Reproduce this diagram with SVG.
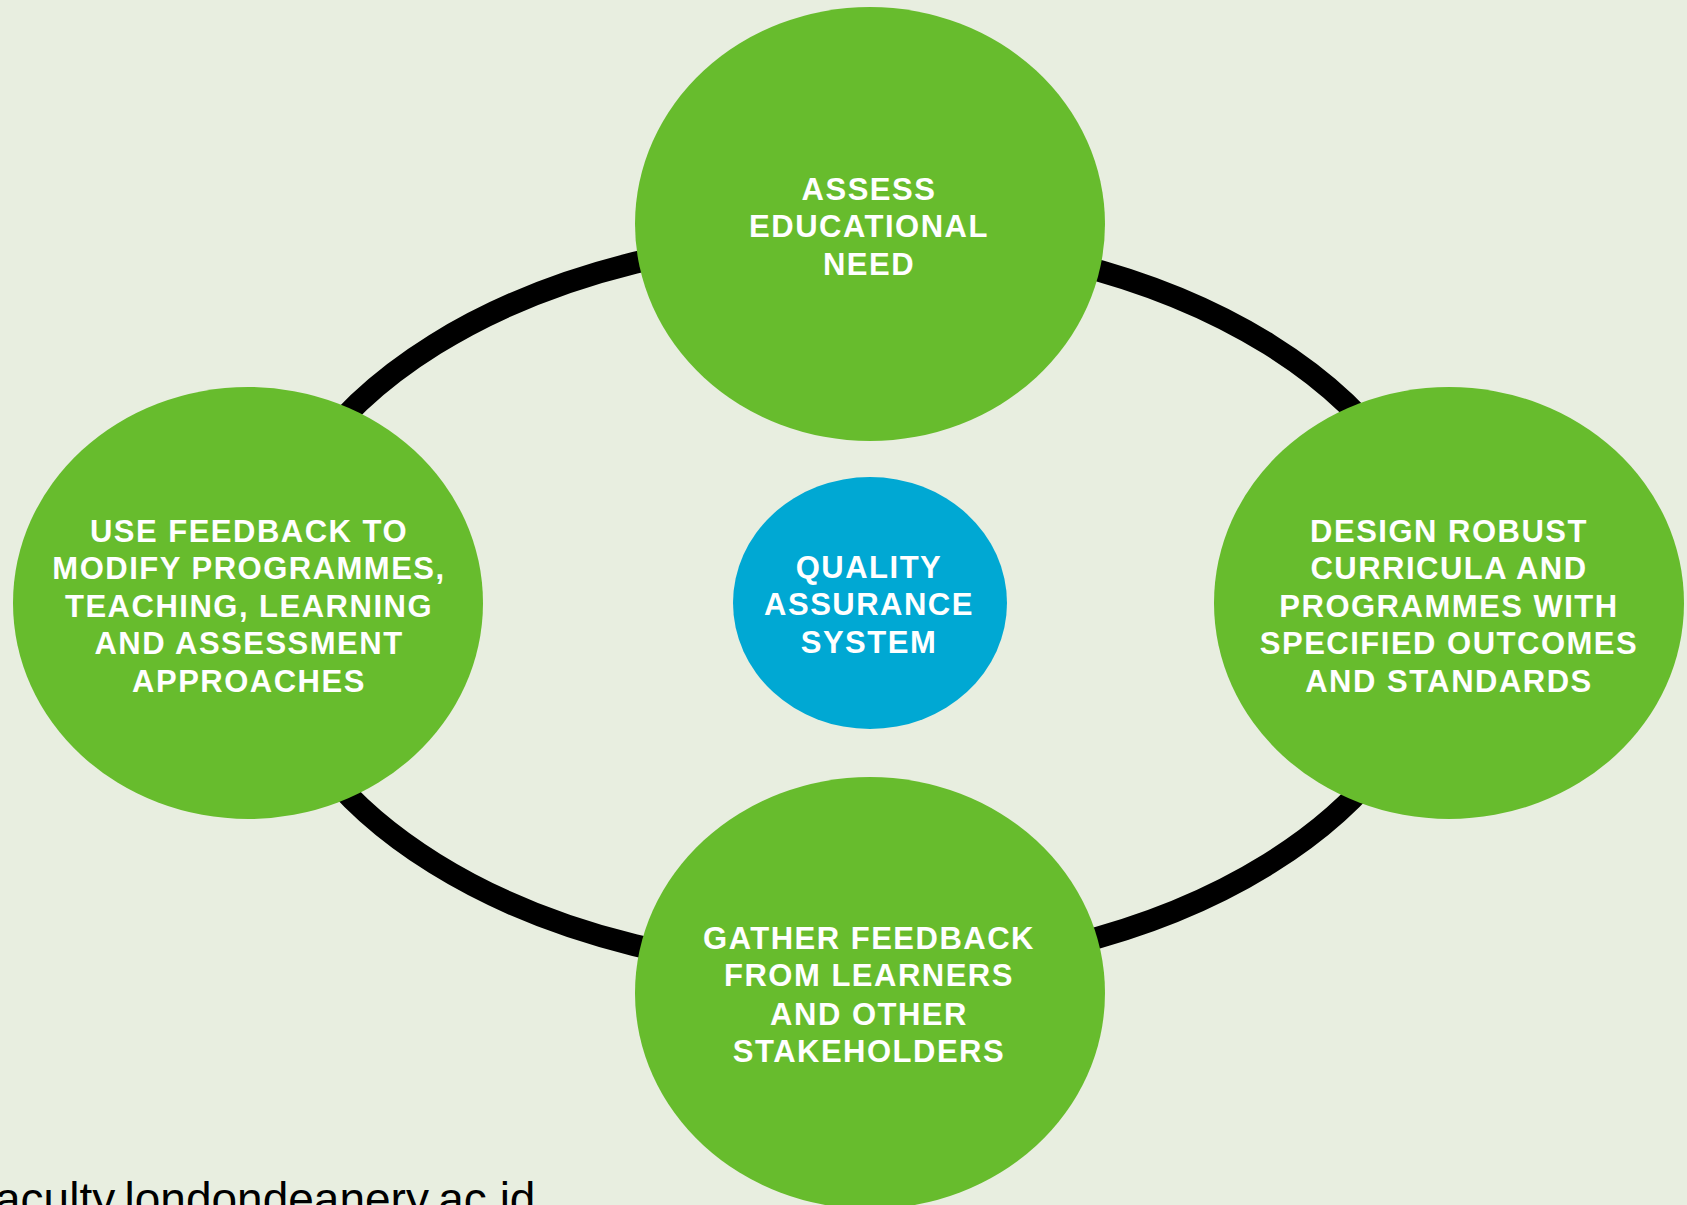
<svg xmlns="http://www.w3.org/2000/svg" width="1687" height="1205" viewBox="0 0 1687 1205">
  <style>
    .ring { fill: none; stroke: #000000; stroke-width: 22; }
    .green { fill: #67bc2d; }
    .blue { fill: #00a8d3; }
    .lbl { font-family: "Liberation Sans", Arial, sans-serif; font-weight: bold; font-size: 31px; fill: #ffffff; text-anchor: middle; letter-spacing: 1.5px; }
    .url { font-family: "Liberation Sans", Arial, sans-serif; font-size: 46px; fill: #000000; }
  </style>
  <rect x="0" y="0" width="1687" height="1205" fill="#e8eee0"/>
  <g id="connectors">
    <path class="ring" d="M 852 237 A 590 367 0 0 1 1442 604"/>
    <path class="ring" d="M 1442 604 A 590 367 0 0 1 852 971"/>
    <path class="ring" d="M 852 971 A 590 367 0 0 1 262 604"/>
    <path class="ring" d="M 262 604 A 590 367 0 0 1 852 237"/>
  </g>
  <g id="node-assess">
    <ellipse class="green" cx="870" cy="224" rx="235" ry="217"/>
    <text class="lbl" x="869" y="200">ASSESS</text>
    <text class="lbl" x="869" y="237">EDUCATIONAL</text>
    <text class="lbl" x="869" y="275">NEED</text>
  </g>
  <g id="node-design">
    <ellipse class="green" cx="1449" cy="603" rx="235" ry="216"/>
    <text class="lbl" x="1449" y="542">DESIGN ROBUST</text>
    <text class="lbl" x="1449" y="579">CURRICULA AND</text>
    <text class="lbl" x="1449" y="617">PROGRAMMES WITH</text>
    <text class="lbl" x="1449" y="654">SPECIFIED OUTCOMES</text>
    <text class="lbl" x="1449" y="692">AND STANDARDS</text>
  </g>
  <g id="node-gather">
    <ellipse class="green" cx="870" cy="993" rx="235" ry="216"/>
    <text class="lbl" x="869" y="949">GATHER FEEDBACK</text>
    <text class="lbl" x="869" y="986">FROM LEARNERS</text>
    <text class="lbl" x="869" y="1025">AND OTHER</text>
    <text class="lbl" x="869" y="1062">STAKEHOLDERS</text>
  </g>
  <g id="node-use">
    <ellipse class="green" cx="248" cy="603" rx="235" ry="216"/>
    <text class="lbl" x="249" y="542">USE FEEDBACK TO</text>
    <text class="lbl" x="249" y="579">MODIFY PROGRAMMES,</text>
    <text class="lbl" x="249" y="617">TEACHING, LEARNING</text>
    <text class="lbl" x="249" y="654">AND ASSESSMENT</text>
    <text class="lbl" x="249" y="692">APPROACHES</text>
  </g>
  <g id="node-qa">
    <ellipse class="blue" cx="870" cy="603" rx="137" ry="126"/>
    <text class="lbl" x="869" y="578">QUALITY</text>
    <text class="lbl" x="869" y="615">ASSURANCE</text>
    <text class="lbl" x="869" y="653">SYSTEM</text>
  </g>
  <text class="url" x="-5" y="1215">aculty.londondeanery.ac.id</text>
</svg>
